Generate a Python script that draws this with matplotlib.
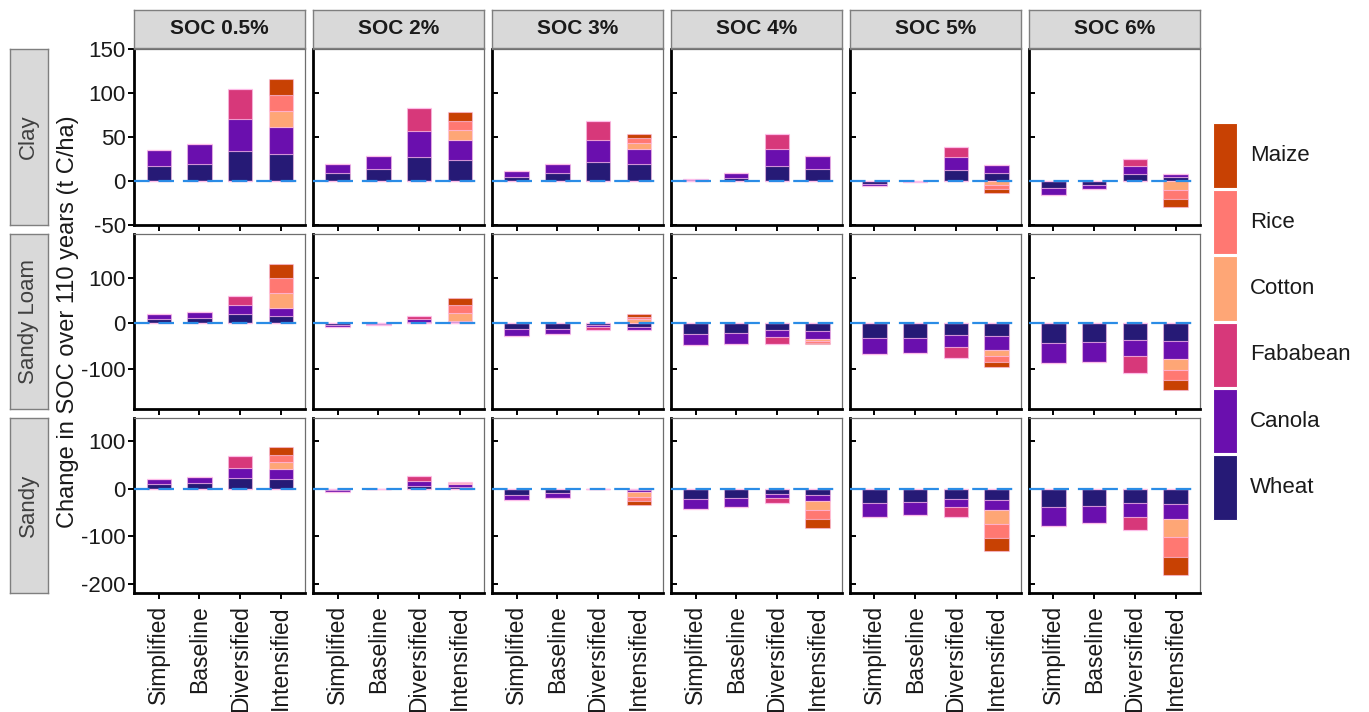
import matplotlib
matplotlib.use("Agg")
import matplotlib.pyplot as plt
from matplotlib.patches import Rectangle
import numpy as np

plt.rcParams['font.family'] = ['Liberation Sans', 'DejaVu Sans']

scenarios = ["Simplified", "Baseline", "Diversified", "Intensified"]
soc_levels = ["SOC 0.5%", "SOC 2%", "SOC 3%", "SOC 4%", "SOC 5%", "SOC 6%"]
soils = ["Clay", "Sandy Loam", "Sandy"]
crops = ["Wheat", "Canola", "Fababean", "Cotton", "Rice", "Maize"]
crop_colors = ["#261A76", "#6A0FAE", "#D7387A", "#FEA676", "#FF7872", "#C84103"]

# Change in SOC over 110 years (t C/ha); rows = SOC level, cols = scenario
clay_wheat = [[17, 20, 34, 31], [9.5, 13.7, 27, 24], [5, 9, 22, 19],
              [1, 3.5, 17.5, 14], [-3, -0.5, 12.5, 8.8], [-8.4, -4.6, 8, 5]]
clay_canola = [[18, 22, 37, 30], [10.5, 15, 29.5, 23], [7, 10, 25, 18],
               [1.5, 5.5, 19, 14], [-3, 0.5, 14.5, 9.5], [-7.6, -4.6, 9.5, 3.4]]
clay_fababean = [[0, 0, 34, 0], [0, 0, 26.5, 0], [0, 0, 21, 0],
                 [0, 0, 17.5, 0], [0, 0, 12, 0], [0, 0, 7.3, 0]]
clay_cotton = [[0, 0, 0, 19], [0, 0, 0, 11], [0, 0, 0, 6],
               [0, 0, 0, 0.4], [0, 0, 0, -5], [0, 0, 0, -10.3]]
clay_rice = [[0, 0, 0, 18], [0, 0, 0, 10], [0, 0, 0, 6],
             [0, 0, 0, 0.4], [0, 0, 0, -4.5], [0, 0, 0, -9.7]]
clay_maize = [[0, 0, 0, 18], [0, 0, 0, 11], [0, 0, 0, 5],
              [0, 0, 0, 0.3], [0, 0, 0, -4.2], [0, 0, 0, -9]]

loam_wheat = [[10, 12.5, 20.5, 17], [-3.5, -1.5, 3.7, 3], [-12.5, -12.5, -4.4, -7.4],
              [-23.5, -21.3, -14.7, -17], [-32.4, -32.4, -25, -28], [-44, -42, -36.8, -39]]
loam_canola = [[10, 13, 20.5, 18], [-5.5, -2.5, 6, 2], [-16, -11.8, -4.4, -8],
               [-25, -24.3, -15.4, -18.3], [-36, -33, -27, -30], [-43.5, -42.6, -35.3, -39.7]]
loam_fababean = [[0, 0, 20, 0], [0, 0, 5.7, 0], [0, 0, -6, 0],
                 [0, 0, -16.2, 0], [0, 0, -25, 0], [0, 0, -37.5, 0]]
loam_cotton = [[0, 0, 0, 32], [0, 0, 0, 17], [0, 0, 0, 9],
               [0, 0, 0, -4.4], [0, 0, 0, -13.3], [0, 0, 0, -23.5]]
loam_rice = [[0, 0, 0, 33], [0, 0, 0, 18], [0, 0, 0, 6],
             [0, 0, 0, -2.9], [0, 0, 0, -13.3], [0, 0, 0, -23.5]]
loam_maize = [[0, 0, 0, 31], [0, 0, 0, 15], [0, 0, 0, 5.5],
              [0, 0, 0, -3.7], [0, 0, 0, -11.7], [0, 0, 0, -22.1]]

sandy_wheat = [[10, 12, 22, 20], [-2.5, -0.4, 7, 4.2], [-12, -9.2, -0.3, -2],
               [-20.4, -18.3, -10.6, -13.4], [-30.3, -27.5, -20.4, -22.5], [-38.7, -36.6, -29.6, -31.7]]
sandy_canola = [[11, 14, 23, 21], [-3, -0.4, 10.6, 7.1], [-11, -9.8, 0.3, -3.6],
                [-21.1, -19, -9.1, -11.2], [-29.6, -27.5, -18.3, -21.9], [-38.8, -35.9, -28.9, -31]]
sandy_fababean = [[0, 0, 24, 0], [0, 0, 9.2, 0], [0, 0, -0.3, 0],
                  [0, 0, -9.9, 0], [0, 0, -19.8, 0], [0, 0, -28.8, 0]]
sandy_cotton = [[0, 0, 0, 16], [0, 0, 0, 1.3], [0, 0, 0, -11.3],
                [0, 0, 0, -19.8], [0, 0, 0, -28.8], [0, 0, 0, -39.4]]
sandy_rice = [[0, 0, 0, 15.5], [0, 0, 0, 1.2], [0, 0, 0, -8.4],
              [0, 0, 0, -19.6], [0, 0, 0, -29.6], [0, 0, 0, -40.2]]
sandy_maize = [[0, 0, 0, 15.5], [0, 0, 0, 1.1], [0, 0, 0, -8.4],
               [0, 0, 0, -18.4], [0, 0, 0, -28.9], [0, 0, 0, -38]]

soil_data = {
    "Clay": [clay_wheat, clay_canola, clay_fababean, clay_cotton, clay_rice, clay_maize],
    "Sandy Loam": [loam_wheat, loam_canola, loam_fababean, loam_cotton, loam_rice, loam_maize],
    "Sandy": [sandy_wheat, sandy_canola, sandy_fababean, sandy_cotton, sandy_rice, sandy_maize],
}
row_limits = {"Clay": (-50, 150), "Sandy Loam": (-189, 198), "Sandy": (-220, 150)}
row_ticks = {"Clay": [-50, 0, 50, 100, 150], "Sandy Loam": [-100, 0, 100],
             "Sandy": [-200, -100, 0, 100]}

W, H = 1369, 712
fig = plt.figure(figsize=(W / 100, H / 100), dpi=100)
fig.patch.set_facecolor("white")


def px_axes(left, top, width, height):
    return fig.add_axes([left / W, 1 - (top + height) / H, width / W, height / H])


panel_left0, col_pitch, panel_w = 134.3, 178.94, 171.0
panel_top0, row_pitch, panel_h = 49.3, 184.2, 175.7
strip_bg = "#D9D9D9"
strip_edge = "#7F7F7F"

x = np.arange(1, len(scenarios) + 1)

for r, soil in enumerate(soils):
    top = panel_top0 + r * row_pitch
    # row strip on the left
    sax = px_axes(10, top, 37.7, panel_h)
    sax.set_facecolor(strip_bg)
    sax.set_xticks([]); sax.set_yticks([])
    for sp in sax.spines.values():
        sp.set_color(strip_edge); sp.set_linewidth(1.0)
    sax.text(0.5, 0.5, soil, rotation=90, ha="center", va="center",
             fontsize=16, color="#404040", transform=sax.transAxes)

    for c, soc in enumerate(soc_levels):
        left = panel_left0 + c * col_pitch
        ax = px_axes(left, top, panel_w, panel_h)
        vals = np.array([np.array(crop_arr[c], dtype=float) for crop_arr in soil_data[soil]])
        pos_base = np.zeros(len(scenarios))
        neg_base = np.zeros(len(scenarios))
        for k, crop in enumerate(crops):
            v = vals[k]
            pos = np.where(v > 0, v, 0)
            neg = np.where(v < 0, v, 0)
            ax.bar(x, pos, bottom=pos_base, width=0.6, color=crop_colors[k],
                   edgecolor=(1.0, 0.75, 0.92, 0.55), linewidth=0.8, zorder=2)
            ax.bar(x, neg, bottom=neg_base, width=0.6, color=crop_colors[k],
                   edgecolor=(1.0, 0.75, 0.92, 0.55), linewidth=0.8, zorder=2)
            pos_base += pos
            neg_base += neg

        ax.axhline(0, color="#2A8CE6", linewidth=1.6, linestyle=(0, (7, 4)), zorder=3)
        ax.set_xlim(0.4, 4.6)
        ax.set_ylim(*row_limits[soil])
        ax.set_yticks(row_ticks[soil])
        ax.set_xticks(x)
        for sp in ax.spines.values():
            sp.set_color("#6E6E6E"); sp.set_linewidth(0.9)
        for side in ("left", "bottom"):
            ax.spines[side].set_color("black")
            ax.spines[side].set_linewidth(2.0)
        ax.tick_params(axis="x", direction="out", length=4.5, width=1.4, color="black", pad=4)
        ax.tick_params(axis="y", direction="out" if c == 0 else "in",
                       length=4, width=1.4, color="black", pad=2)
        if c == 0:
            ax.set_yticklabels([str(t) for t in row_ticks[soil]], fontsize=16, color="#1a1a1a")
        else:
            ax.set_yticklabels([])
        if r == len(soils) - 1:
            ax.set_xticklabels(scenarios, rotation=90, fontsize=16.5, color="#1a1a1a")
        else:
            ax.set_xticklabels([])

        if r == 0:
            cax = px_axes(left, 10, panel_w, 37.7)
            cax.set_facecolor(strip_bg)
            cax.set_xticks([]); cax.set_yticks([])
            for sp in cax.spines.values():
                sp.set_color(strip_edge); sp.set_linewidth(1.0)
            cax.text(0.5, 0.5, soc, ha="center", va="center", fontsize=15,
                     fontweight="bold", color="#1a1a1a", transform=cax.transAxes)

fig.text(68 / W, 1 - 322 / H, "Change in SOC over 110 years (t C/ha)", rotation=90,
         ha="center", va="center", fontsize=17, color="#1a1a1a")

# legend: tall colour keys, Maize on top
lax = px_axes(1205, 115, 164, 415)
lax.set_xlim(1205, 1369)
lax.set_ylim(530, 115)
lax.axis("off")
for i, crop in enumerate(crops[::-1]):
    ktop = 123.3 + i * 66.4
    lax.add_patch(Rectangle((1213, ktop), 24, 64.5, facecolor=crop_colors[::-1][i],
                            edgecolor="white", linewidth=0.8))
    lax.text(1250, ktop + 32.5, crop, ha="left", va="center", fontsize=16, color="#1a1a1a")

fig.savefig("out.png", dpi=100, facecolor="white")
